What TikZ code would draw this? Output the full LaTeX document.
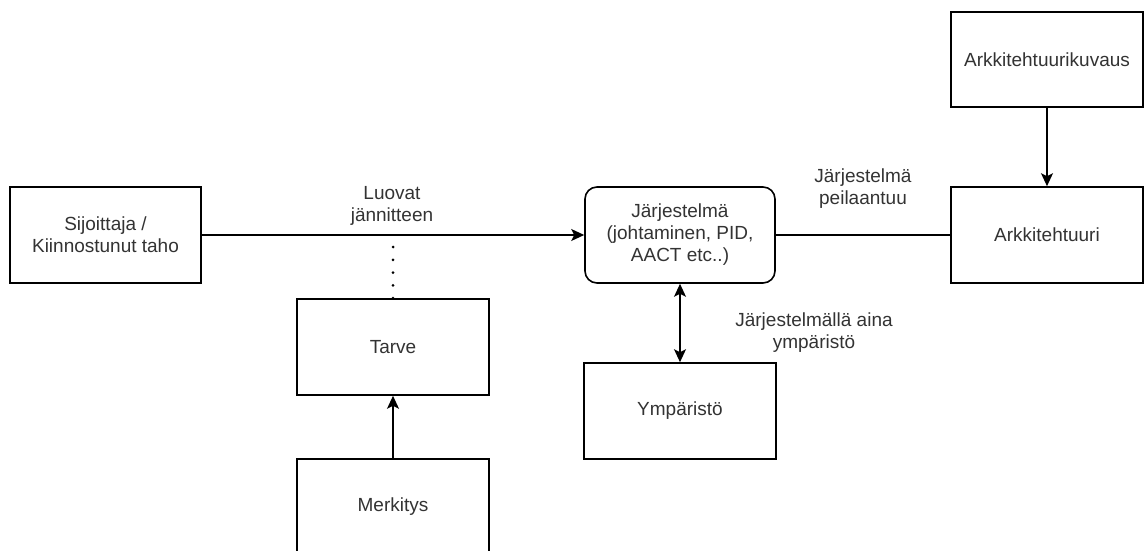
\documentclass[tikz,border=0pt]{standalone}
\usepackage{fontspec}
\setmainfont{Liberation Sans}
\usetikzlibrary{arrows.meta}
\definecolor{txt}{HTML}{333333}
\tikzset{
  box/.style={draw=black, line width=1.6pt, fill=white, minimum width=192pt,
    minimum height=96pt, inner sep=0pt, align=center, text=txt,
    font=\fontsize{19}{22}\selectfont},
  roundbox/.style={box, rounded corners=12pt},
  lbl/.style={align=center, text=txt, inner sep=0pt,
    font=\fontsize{19}{22}\selectfont},
  conn/.style={draw=black, line width=1.6pt},
  tip/.style={-{Stealth[length=13pt,width=12pt,inset=3pt]}},
  dots/.style={draw=black, line width=3pt, line cap=round,
    dash pattern=on 0pt off 12.8pt}
}
\begin{document}
\begin{tikzpicture}[x=1pt,y=-1pt]
\useasboundingbox (0,0) rectangle (1144,551);
\clip (0,0) rectangle (1144,551);

% boxes
\node[box, minimum width=191pt] (sij) at (105.5,235) {Sijoittaja /\\Kiinnostunut taho};
\node[roundbox, minimum width=190pt] (jar) at (680,235) {Järjestelmä\\(johtaminen, PID,\\AACT etc..)};
\node[box] (ark) at (1047,235) {Arkkitehtuuri};
\node[box, minimum height=95pt] (kuv) at (1047,59.5) {Arkkitehtuurikuvaus};
\node[box] (tar) at (393,347) {Tarve};
\node[box] (mer) at (393,507) {Merkitys};
\node[box] (ymp) at (680,411) {Ympäristö};

% connectors
\draw[conn, tip] (sij.east) -- (jar.west);
\draw[conn] (jar.east) -- (ark.west);
\draw[conn, tip] (kuv.south) -- (ark.north);
\draw[conn, tip] (mer.north) -- (tar.south);
\draw[conn, {Stealth[length=13pt,width=12pt,inset=3pt]}-{Stealth[length=13pt,width=12pt,inset=3pt]}] (jar.south) -- (ymp.north);
\coordinate (dtop) at (393,246);
\draw[dots] (tar.north) -- (dtop);

% edge labels
\node[lbl] (l1) at (392,206) {Luovat\\jännitteen};
\node[lbl] (l2) at (863,189) {Järjestelmä\\peilaantuu};
\node[lbl] (l3) at (814,333) {Järjestelmällä aina\\ympäristö};
\end{tikzpicture}
\end{document}
